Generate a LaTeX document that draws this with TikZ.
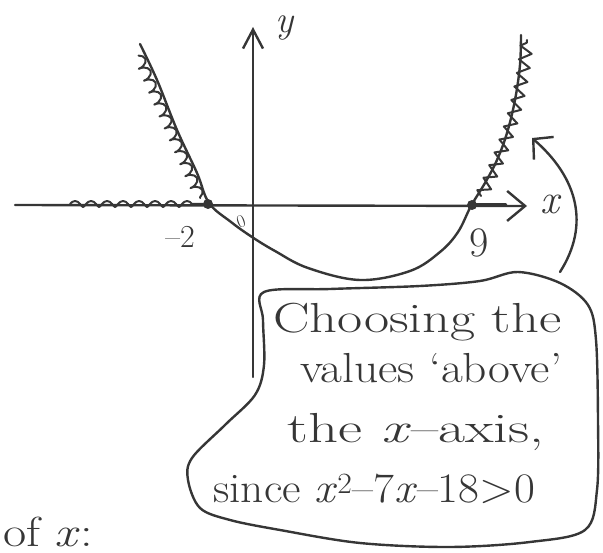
\documentclass[tikz,border=0pt]{standalone}
\usepackage{fontspec}
\usetikzlibrary{arrows.meta,decorations.pathmorphing}
\definecolor{inkc}{HTML}{363636}
\begin{document}
\begin{tikzpicture}[x=1pt,y=-1pt, line cap=round, line join=round,
  ink/.style={draw=inkc, line width=2.4pt},
  hand/.style={text=inkc, font=\fontsize{42}{50}\selectfont, inner sep=0pt, anchor=base west},
  lbl/.style={text=inkc, inner sep=0pt},
  dotnode/.style={circle, fill=inkc, inner sep=0pt, minimum size=10pt}]
\useasboundingbox (0,0) rectangle (603,553);
\clip (0,0) rectangle (603,553);
% axes
\coordinate (xs) at (15,205);
\coordinate (xe) at (527,206);
\draw[ink, -{Straight Barb[length=18pt,width=30pt]}] (xs) -- (xe);
\coordinate (ys) at (253,377);
\coordinate (ye) at (253,27);
\draw[ink, -{Straight Barb[length=19pt,width=20pt]}] (ys) -- (ye);
\node[lbl, font=\fontsize{42}{42}\selectfont\itshape] (xl) at (550,204) {x};
\node[lbl, font=\fontsize{38}{38}\selectfont\itshape] (yl) at (285,28) {y};
\node[lbl, font=\fontsize{32}{32}\selectfont] (m2l) at (180,237) {–2};
\node[lbl, font=\fontsize{42}{42}\selectfont] (n9l) at (479,243) {9};
\node[lbl, font=\fontsize{18}{18}\selectfont, rotate=20] (o0l) at (241,222) {0};
% parabola
\draw[ink] plot[smooth, tension=0.6] coordinates {(140,44) (157,80) (177,130) (197,173) (209,203) (231,222) (252,237) (275,251) (308,268) (360,280) (410,271) (440,252) (458,232) (471,206) (485,183) (497,160) (507,133) (515,100) (520,65) (521,35)};
% shading
\draw[ink, line width=2pt, decorate, decoration={coil, amplitude=5pt, segment length=13pt, aspect=0.5}] (138.5,55.6) -- (200.3,198);
\draw[ink, line width=2pt, decorate, decoration={coil, amplitude=3pt, segment length=16pt, aspect=0.35}] (70,204) -- (203,204);
\draw[ink, line width=2pt, decorate, decoration={zigzag, amplitude=6pt, segment length=14pt}] (481,196) .. controls (505,150) and (522,100) .. (527,40);
\draw[ink, line width=4.5pt] (472,205) -- (505,205);
\node[dotnode] (dm2) at (208,204) {};
\node[dotnode] (d9) at (472,205) {};
% callout
\draw[ink] plot[smooth cycle, tension=0.55] coordinates {(264,292) (330,289) (420,286) (480,281) (518,272) (560,283) (588,305) (596,340) (598,420) (597,490) (585,530) (530,542) (450,547) (360,543) (280,530) (230,520) (200,508) (188,480) (192,458) (225,425) (255,395) (264,365) (263,320)};
\coordinate (cs) at (560,272);
\coordinate (ct) at (532,138);
\draw[ink, -{Straight Barb[length=14pt,width=30pt]}] (cs) .. controls (590,225) and (578,178) .. (ct);
\node[hand] (t1) at (273,333) {\scalebox{1.3}[1]{Choosing the}};
\node[hand] (t2) at (300,383) {\scalebox{1.13}[1]{values ‘above’}};
\node[hand] (t3) at (287,443) {\scalebox{1.4}[1]{the\hspace{14pt}\textit{x}–axis,}};
\node[hand] (t4) at (213,503) {\scalebox{1.08}[1]{since \textit{x}\textsuperscript{2}–7\textit{x}–18>0}};
\node[hand] (t5) at (3,546) {\scalebox{1.2}[1]{of\hspace{12pt}\textit{x}:}};
\end{tikzpicture}
\end{document}
